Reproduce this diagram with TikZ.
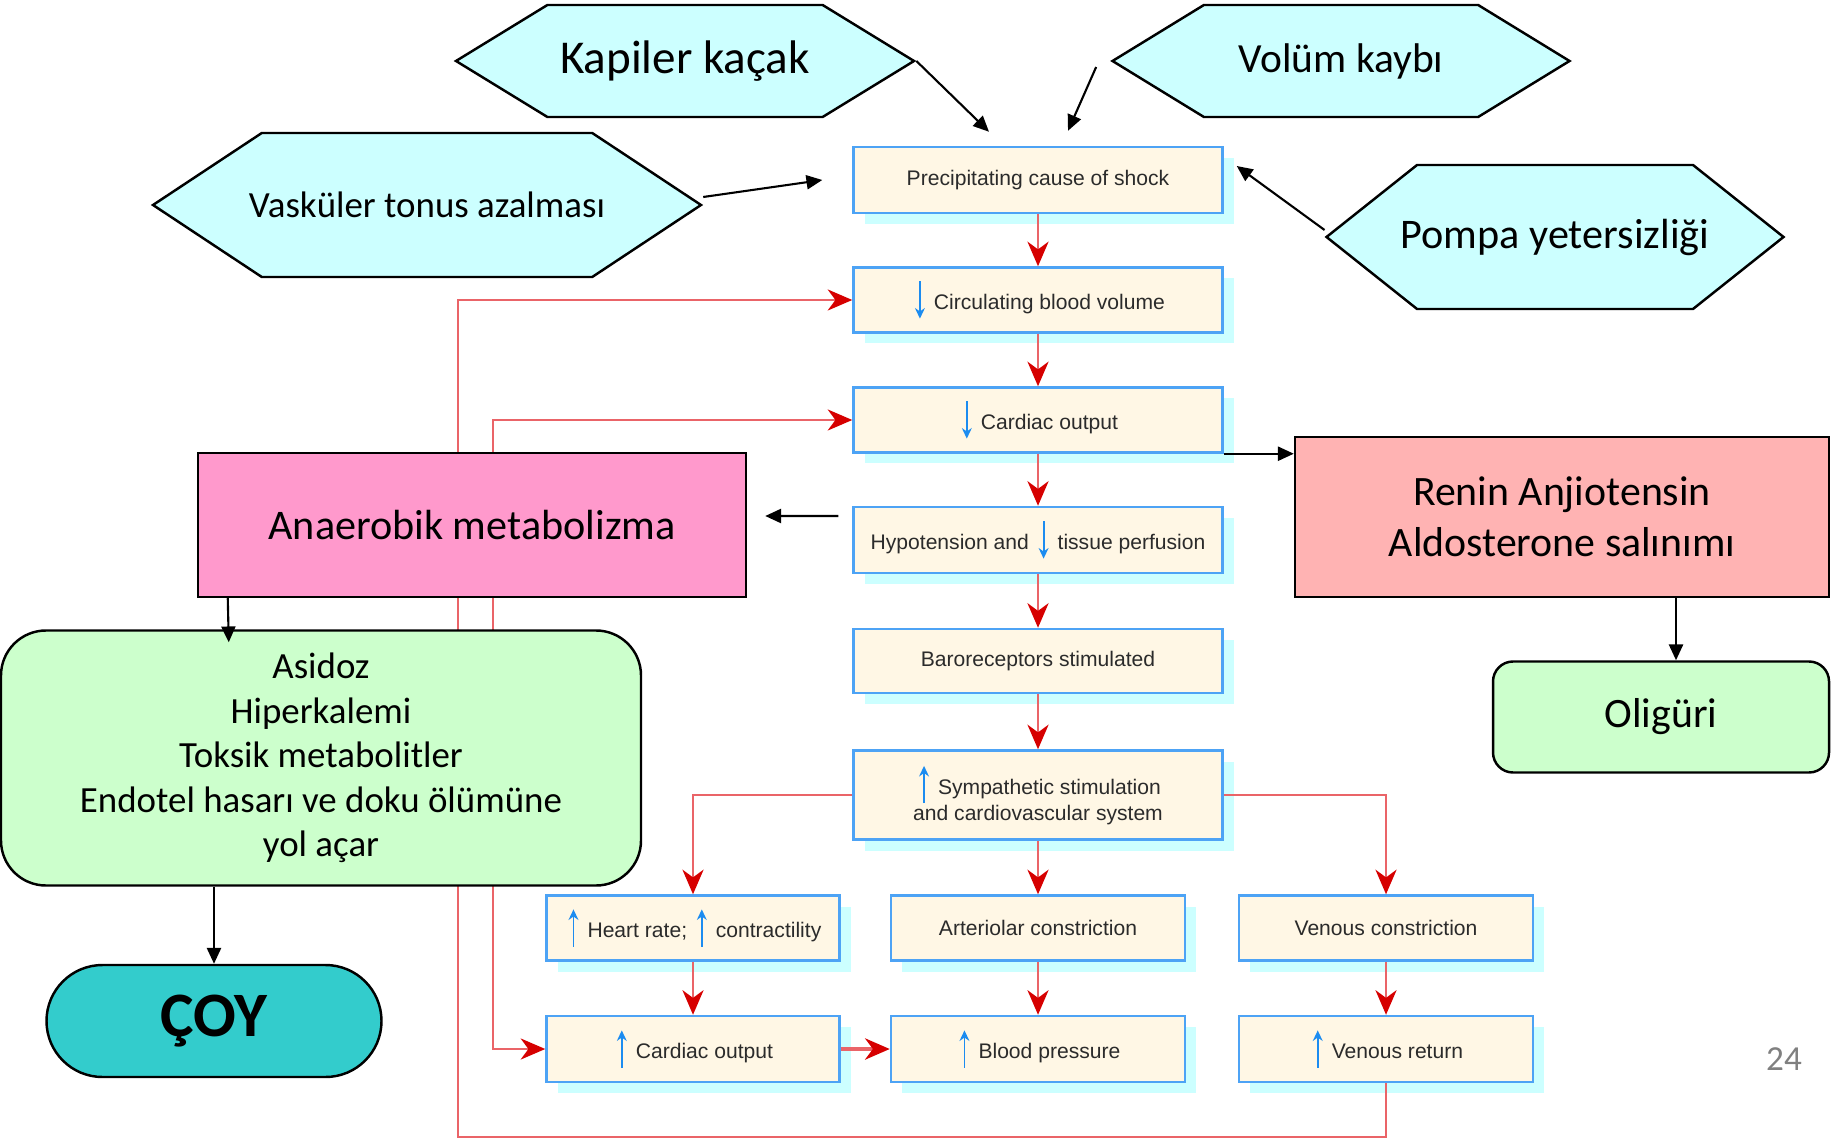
\documentclass[tikz,border=0pt]{standalone}
\usepackage{fontspec}
\setmainfont{Carlito}
\newfontfamily\flowfont{Liberation Sans}
\usetikzlibrary{arrows.meta,shapes.symbols,shadows}

\definecolor{hexfill}{HTML}{CCFFFF}
\definecolor{boxfill}{HTML}{FFF7E5}
\definecolor{boxline}{HTML}{4DA3F5}
\definecolor{boxshadow}{HTML}{CCFFFF}
\definecolor{redline}{HTML}{EA6468}
\definecolor{redhead}{HTML}{D60000}
\definecolor{upblue}{HTML}{1C8CF0}
\definecolor{pinkfill}{HTML}{FF99CC}
\definecolor{reninfill}{HTML}{FFB3B3}
\definecolor{greenfill}{HTML}{CCFFCC}
\definecolor{coyfill}{HTML}{33CCCC}
\definecolor{flowtext}{HTML}{2B2B2B}

\tikzset{
  hexa/.style={signal, signal to=east and west, draw, line width=0.7pt, fill=hexfill, inner sep=0pt},
  kutu/.style={draw, line width=0.7pt, inner sep=0pt, align=center},
  flow/.style={draw=boxline, line width=0.7pt, fill=boxfill, text=flowtext, inner sep=0pt,
    minimum width=3.69cm, minimum height=0.65cm, align=center,
    font=\flowfont\fontsize{6}{7.6}\selectfont,
    drop shadow={shadow xshift=0.11cm, shadow yshift=-0.11cm, fill=boxshadow, opacity=1}},
  redarr/.style={draw=redline, line width=0.7pt,
    >={Stealth[length=7pt,width=6pt,inset=2.2pt,color=redhead]}, ->},
  blkarr/.style={line width=0.6pt, -{Triangle[length=4.5pt,width=4pt]}},
  blu/.style={draw=upblue, line width=0.55pt, -{Stealth[length=3pt,width=2.8pt]}},
}
\newcommand{\dnar}{\tikz[baseline=0pt,x=1pt,y=1pt]{\path (-2.5,0) -- (4,0); \draw[blu] (0,8) -- (0,-2.6);}}
\newcommand{\upar}{\tikz[baseline=0pt,x=1pt,y=1pt]{\path (-2.5,0) -- (4,0); \draw[blu] (0,-2.6) -- (0,8);}}

\begin{document}
\begin{tikzpicture}
  \useasboundingbox (0,0) rectangle (18.43,-11.41);
  % Causes of shock
  \node[hexa, signal pointer angle=63, minimum width=4.58cm, minimum height=1.12cm, font=\fontsize{13.4}{16}\selectfont] (kapiler) at (6.85,-0.61) {Kapiler kaçak};
  \node[hexa, signal pointer angle=63, minimum width=4.57cm, minimum height=1.12cm, font=\fontsize{11.8}{14}\selectfont] (volum) at (13.41,-0.61) {Volüm kaybı};
  \node[hexa, signal pointer angle=67, inner xsep=-0.16cm, minimum width=5.48cm, minimum height=1.44cm, font=\fontsize{10.5}{13}\selectfont] (vaskuler) at (4.27,-2.05) {Vasküler tonus azalması};
  \node[hexa, signal pointer angle=77, inner xsep=-0.18cm, minimum width=4.57cm, minimum height=1.44cm, font=\fontsize{12}{14}\selectfont] (pompa) at (15.55,-2.37) {Pompa yetersizliği};

  % Main chain
  \node[flow, minimum height=0.66cm] (precip) at (10.38,-1.80) {Precipitating cause of shock};
  \node[flow] (circ) at (10.38,-3.00) {\dnar Circulating blood volume};
  \node[flow] (cardiac) at (10.38,-4.20) {\dnar Cardiac output};
  \node[flow, minimum height=0.66cm] (hypo) at (10.38,-5.40) {Hypotension and \dnar tissue perfusion};
  \node[flow, minimum height=0.64cm] (baro) at (10.38,-6.61) {Baroreceptors stimulated};
  \node[flow, minimum height=0.89cm] (symp) at (10.38,-7.95) {\upar Sympathetic stimulation\\and cardiovascular system};
  \node[flow, minimum width=2.93cm] (heart) at (6.93,-9.28) {\upar Heart rate; \upar contractility};
  \node[flow, minimum width=2.94cm] (arter) at (10.38,-9.28) {Arteriolar constriction};
  \node[flow, minimum width=2.94cm] (venous) at (13.86,-9.28) {Venous constriction};
  \node[flow, minimum width=2.93cm, minimum height=0.66cm] (output) at (6.93,-10.49) {\upar Cardiac output};
  \node[flow, minimum width=2.94cm, minimum height=0.66cm] (pressure) at (10.38,-10.49) {\upar Blood pressure};
  \node[flow, minimum width=2.94cm, minimum height=0.66cm] (venret) at (13.86,-10.49) {\upar Venous return};

  \foreach \a/\b in {precip/circ, circ/cardiac, cardiac/hypo, hypo/baro, baro/symp, symp/arter, heart/output, arter/pressure, venous/venret}
    \draw[redarr] (\a) -- (\b);
  \draw[redarr] (symp.west) -| (heart.north);
  \draw[redarr] (symp.east) -| (venous.north);
  \draw[redarr, line width=1.3pt] (output) -- (pressure);

  % Feedback loops
  \coordinate (loopa) at (4.58,-11.37);
  \coordinate (loopb) at (4.93,-7.00);
  \draw[redarr] (venret.south) |- (loopa) |- (circ.west);
  \draw[redarr, <->] (cardiac.west) -| (loopb) |- (output.west);

  % Consequences
  \node[kutu, fill=pinkfill, minimum width=5.48cm, minimum height=1.44cm, font=\fontsize{12}{14}\selectfont] (anaer) at (4.72,-5.25) {Anaerobik metabolizma};
  \node[kutu, fill=reninfill, minimum width=5.34cm, minimum height=1.60cm, font=\fontsize{11.9}{14.4}\selectfont] (renin) at (15.62,-5.17) {Renin Anjiotensin\\Aldosterone salınımı};
  \node[kutu, fill=greenfill, rounded corners=0.2cm, minimum width=3.36cm, minimum height=1.11cm, font=\fontsize{11.9}{14}\selectfont] (olig) at (16.61,-7.17) {Oligüri};
  \node[kutu, fill=greenfill, rounded corners=0.45cm, minimum width=6.40cm, minimum height=2.55cm, font=\fontsize{10.5}{12.7}\selectfont] (sonuc) at (3.21,-7.58) {Asidoz\\Hiperkalemi\\Toksik metabolitler\\Endotel hasarı ve doku ölümüne\\yol açar};
  \node[kutu, fill=coyfill, rounded corners=0.56cm, minimum width=3.35cm, minimum height=1.12cm, font=\bfseries\fontsize{18}{20}\selectfont] (coy) at (2.14,-10.21) {ÇOY};
  \node[text=gray, font=\fontsize{10}{12}\selectfont] (sayfa) at (17.84,-10.59) {24};

  \draw[blkarr] (kapiler.east) -- ([xshift=-0.49cm,yshift=0.14cm]precip.north);
  \draw[blkarr] ([xshift=-0.14cm,yshift=-0.06cm]volum.west) -- ([xshift=0.30cm,yshift=0.15cm]precip.north);
  \draw[blkarr] ([yshift=0.08cm]vaskuler.east) -- ([xshift=-0.30cm]precip.west);
  \draw[blkarr] ([yshift=0.07cm]pompa.west) -- ([xshift=0.13cm,yshift=0.14cm]precip.east);
  \draw[blkarr] (cardiac.south east) -- (cardiac.south east -| renin.west);
  \draw[blkarr] ([xshift=-0.14cm,yshift=0.24cm]hypo.west) -- ([xshift=0.18cm,yshift=0.09cm]anaer.east);
  \draw[blkarr] ([xshift=0.31cm]anaer.south west) -- ([xshift=2.29cm,yshift=-0.13cm]sonuc.north west);
  \draw[blkarr] (sonuc.south -| coy.north) -- (coy.north);
  \draw[blkarr] ([xshift=1.14cm]renin.south) -- ([xshift=0.15cm]olig.north);
\end{tikzpicture}
\end{document}
